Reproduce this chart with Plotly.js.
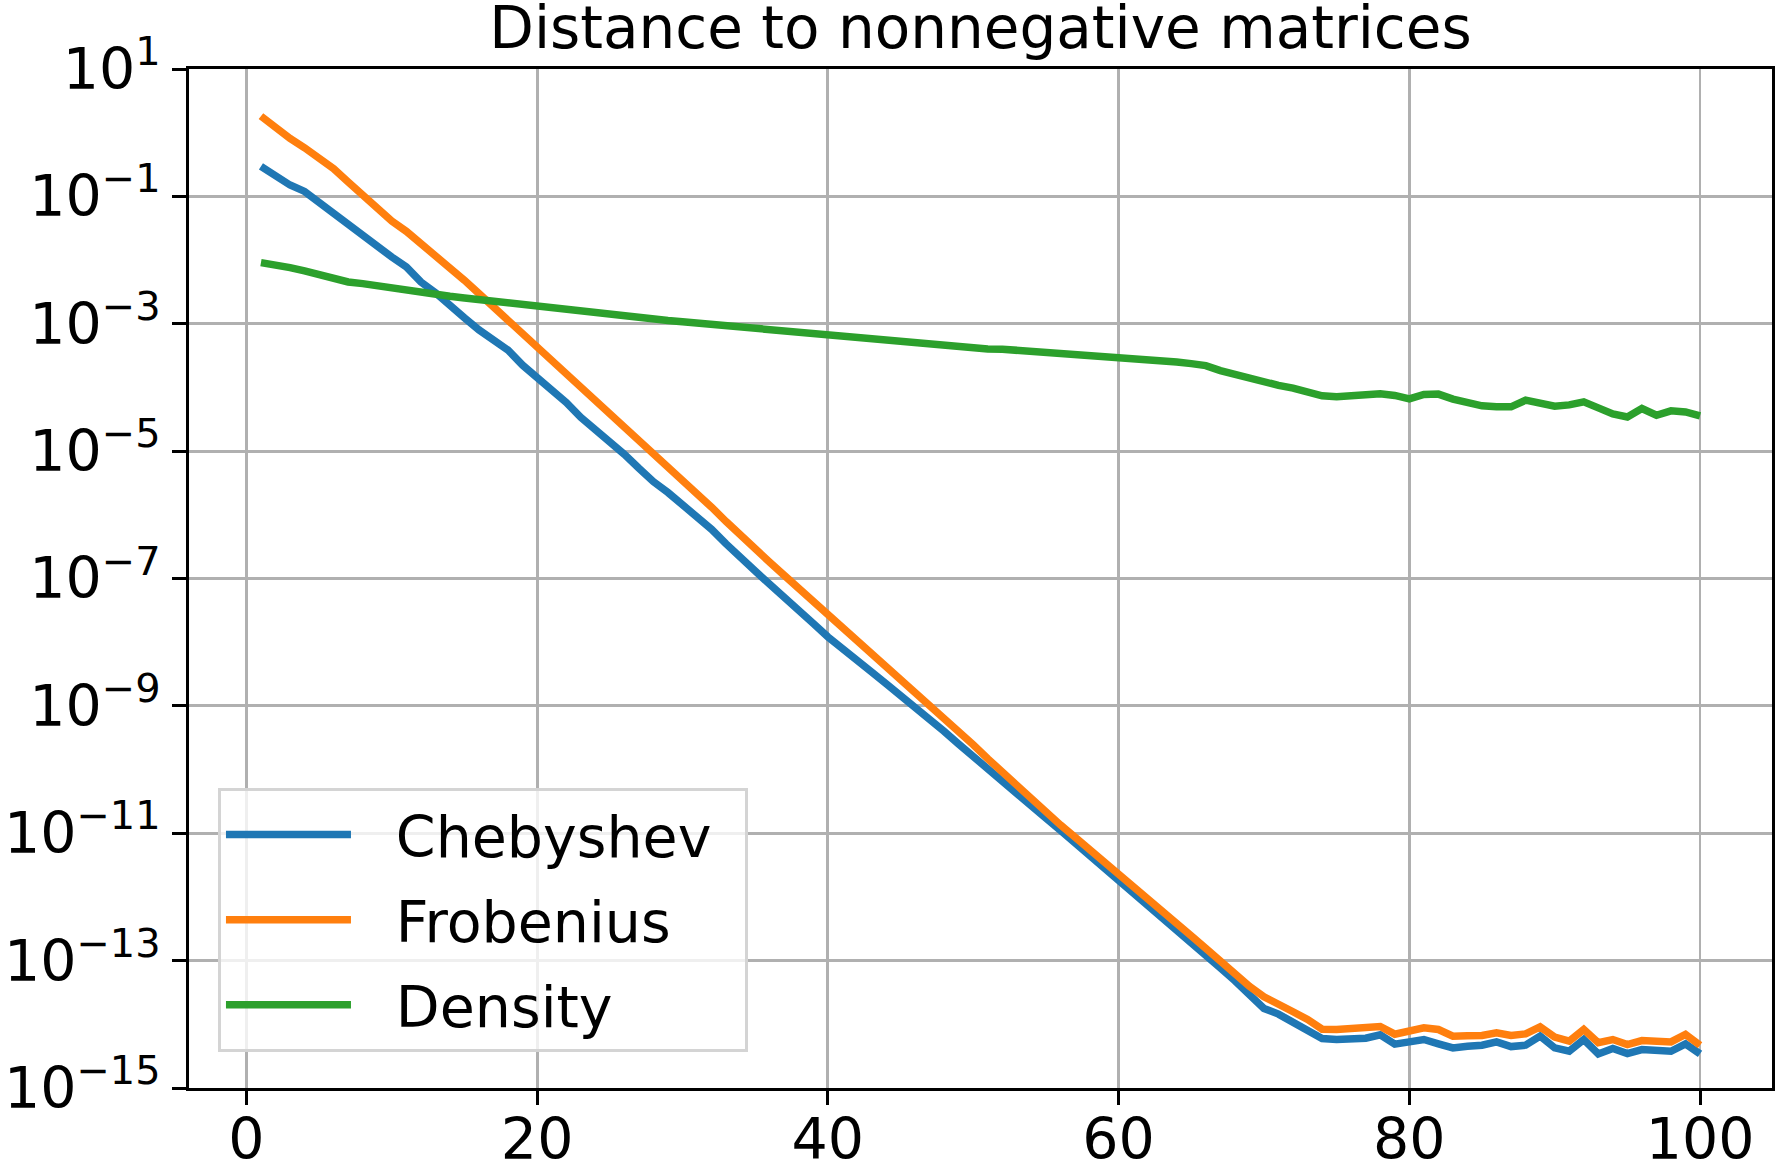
<!DOCTYPE html>
<html>
<head>
<meta charset="utf-8">
<script src="https://cdn.plot.ly/plotly-3.0.1.min.js"></script>
<style>html,body{margin:0;padding:0;background:#fff;}#chart{width:1775px;height:1174px;}</style>
</head>
<body>
<div id="chart"></div>
<script>
// x: iteration index
const iterations = Array.from({length: 100}, (_, i) => i + 1);

// values, stored as log10 of the distance
const chebyshevLog10 = [
 -0.53,-0.671,-0.822,-0.922,-1.094,-1.277,-1.465,-1.643,-1.779,-1.952,
 -2.108,-2.344,-2.511,-2.725,-2.908,-3.097,-3.259,-3.416,-3.651,-3.845,
 -4.04,-4.235,-4.47,-4.66,-4.84,-5.05,-5.27,-5.48,-5.65,-5.844,
 -6.017,-6.227,-6.457,-6.683,-6.882,-7.092,-7.287,-7.496,-7.706,-7.916,
 -8.089,-8.273,-8.467,-8.651,-8.83,-9.02,-9.21,-9.40,-9.60,-9.80,
 -10.0,-10.192,-10.381,-10.57,-10.764,-10.953,-11.147,-11.336,-11.535,-11.74,
 -11.94,-12.139,-12.339,-12.528,-12.722,-12.921,-13.115,-13.315,-13.525,-13.751,
 -13.84,-13.971,-14.092,-14.223,-14.239,-14.239,-14.218,-14.165,-14.312,-14.276,
 -14.239,-14.307,-14.37,-14.344,-14.328,-14.276,-14.35,-14.328,-14.186,-14.37,
 -14.423,-14.239,-14.465,-14.381,-14.46,-14.396,-14.396,-14.423,-14.307,-14.465
];
const frobeniusLog10 = [
 0.26,0.072,-0.09,-0.237,-0.393,-0.566,-0.775,-0.984,-1.183,-1.387,
 -1.549,-1.732,-1.925,-2.119,-2.318,-2.527,-2.736,-2.935,-3.144,-3.37,
 -3.575,-3.77,-3.98,-4.19,-4.39,-4.6,-4.81,-5.03,-5.23,-5.43,
 -5.665,-5.88,-6.106,-6.331,-6.541,-6.746,-6.951,-7.155,-7.365,-7.57,
 -7.774,-7.979,-8.173,-8.362,-8.561,-8.766,-8.976,-9.186,-9.401,-9.61,
 -9.83,-10.045,-10.249,-10.47,-10.68,-10.87,-11.06,-11.25,-11.44,-11.625,
 -11.824,-12.018,-12.223,-12.412,-12.612,-12.806,-13.01,-13.21,-13.404,-13.567,
 -13.672,-13.803,-13.924,-14.076,-14.081,-14.071,-14.039,-14.034,-14.155,-14.108,
 -14.055,-14.081,-14.186,-14.18,-14.176,-14.134,-14.176,-14.15,-14.04,-14.2,
 -14.265,-14.081,-14.29,-14.239,-14.318,-14.255,-14.265,-14.276,-14.16,-14.328
];
const densityLog10 = [
 -2.04,-2.067,-2.119,-2.171,-2.229,-2.292,-2.344,-2.37,-2.407,-2.443,
 -2.474,-2.511,-2.542,-2.569,-2.595,-2.621,-2.652,-2.678,-2.71,-2.741,
 -2.767,-2.788,-2.814,-2.841,-2.861,-2.89,-2.91,-2.93,-2.95,-2.97,
 -2.99,-3.01,-3.035,-3.06,-3.085,-3.11,-3.135,-3.155,-3.175,-3.195,
 -3.213,-3.228,-3.244,-3.265,-3.281,-3.3,-3.317,-3.338,-3.364,-3.38,
 -3.396,-3.4,-3.416,-3.437,-3.448,-3.463,-3.469,-3.49,-3.516,-3.516,
 -3.532,-3.558,-3.579,-3.6,-3.626,-3.657,-3.736,-3.8,-3.847,-3.905,
 -3.968,-4.01,-4.074,-4.132,-4.147,-4.132,-4.095,-4.1,-4.126,-4.179,
 -4.111,-4.105,-4.184,-4.242,-4.289,-4.305,-4.305,-4.2,-4.247,-4.295,
 -4.274,-4.226,-4.321,-4.416,-4.463,-4.332,-4.437,-4.368,-4.384,-4.447
];

const seriesNames = ["Chebyshev", "Frobenius", "Density"];
const seriesColors = ["#1f77b4", "#ff7f0e", "#2ca02c"];

const xTickVals = [0, 20, 40, 60, 80, 100];
const yTickExponents = [1, -1, -3, -5, -7, -9, -11, -13, -15];
const yTickVals = yTickExponents.map(e => Math.pow(10, e));
const yTickText = yTickExponents.map(e => "10<sup>" + (e < 0 ? "\u2212" + (-e) : e) + "</sup>");

const toValue = arr => arr.map(v => Math.pow(10, v));
const allLogs = [chebyshevLog10, frobeniusLog10, densityLog10];

const FONT = "DejaVu Sans, sans-serif";
const traces = allLogs.map((arr, i) => ({
  x: iterations,
  y: toValue(arr),
  type: "scatter",
  mode: "lines",
  name: "\u2002\u2009" + seriesNames[i] + "\u2002",
  legendgroup: "g" + i,
  line: {color: seriesColors[i], width: 7.5}
}));

const layout = {
  width: 1775, height: 1174, autosize: false,
  paper_bgcolor: "#ffffff", plot_bgcolor: "#ffffff",
  margin: {l: 189, r: 3, t: 69, b: 86, pad: 0},
  font: {family: FONT, size: 57, color: "#000"},
  title: {
    text: "Distance to nonnegative matrices",
    font: {family: FONT, size: 58, color: "#000"},
    x: 0.5, xref: "paper", xanchor: "center",
    y: 1 - 28 / 1174, yref: "container", yanchor: "middle"
  },
  xaxis: {
    range: [-3.95, 104.95],
    tickvals: xTickVals,
    ticktext: xTickVals.map(String),
    showgrid: true, gridcolor: "#b0b0b0", gridwidth: 2.8,
    zeroline: false,
    showline: true, linecolor: "#000", linewidth: 3, mirror: true,
    ticks: "outside", ticklen: 14, tickwidth: 3, tickcolor: "#000",
    ticklabelstandoff: -14,
    tickfont: {family: FONT, size: 57, color: "#000"}
  },
  yaxis: {
    type: "log",
    range: [-15, 1],
    tickvals: yTickVals,
    ticktext: yTickText,
    showgrid: true, gridcolor: "#b0b0b0", gridwidth: 2.8,
    zeroline: false,
    showline: true, linecolor: "#000", linewidth: 3, mirror: true,
    ticks: "outside", ticklen: 14, tickwidth: 3, tickcolor: "#000",
    tickfont: {family: FONT, size: 57, color: "#000"}
  },
  showlegend: true,
  legend: {
    x: 0.0183, y: 0.0353, xanchor: "left", yanchor: "bottom",
    bgcolor: "rgba(255,255,255,0.8)",
    bordercolor: "#d4d4d4", borderwidth: 3,
    font: {family: FONT, size: 57, color: "#000"},
    itemwidth: 125,
    tracegroupgap: 8
  }
};

Plotly.newPlot("chart", traces, layout, {displayModeBar: false, staticPlot: true});
</script>
</body>
</html>
